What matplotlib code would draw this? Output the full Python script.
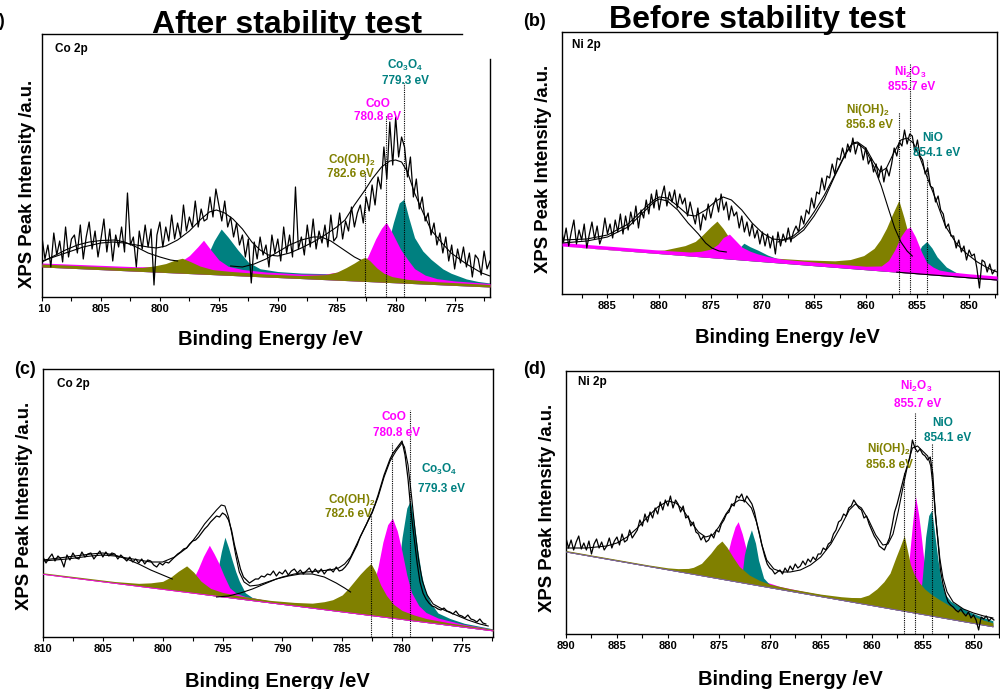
# -*- coding: utf-8 -*-
import numpy as np
import matplotlib
matplotlib.use('Agg')
import matplotlib.pyplot as plt
from matplotlib.patches import Rectangle

# =============================================================================
# Data (intensities in a.u., energies in eV)
# =============================================================================
# --- (a) Co 2p after stability test ---
a_raw = [
    60, 38, 52, 30, 64, 42, 56, 35, 70, 40, 58, 62, 44, 72, 38, 60,
    75, 48, 66, 40, 58, 78, 45, 68, 36, 62, 50, 70, 45, 104, 52, 60,
    30, 66, 48, 72, 50, 68, 12, 62, 75, 50, 70, 56, 82, 58, 74, 60,
    92, 66, 80, 70, 96, 70, 88, 76, 78, 100, 80, 108, 92, 76, 96, 70,
    80, 60, 74, 52, 62, 40, 58, 14, 55, 38, 60, 42, 52, 30, 62, 44,
    58, 36, 70, 44, 62, 40, 110, 48, 60, 42, 72, 50, 78, 48, 66, 54,
    72, 50, 82, 56, 60, 84, 58, 76, 66, 90, 70, 84, 92, 74, 100, 86,
    112, 92, 120, 108, 150, 118, 175, 132, 180, 140, 160, 150, 120, 140, 100, 118,
    88, 100, 76, 84, 62, 74, 52, 64, 44, 60, 36, 52, 28, 48, 34, 50,
    30, 44, 20, 42, 38, 22, 46, 28, 36]
a_base = [(810, 30), (772, 10)]
a_teal = [(810, 3), (798, 3.5), (796.8, 8), (796, 18), (795.4, 34), (794.8, 46), (794.2, 38),
          (793.4, 26), (792.5, 14), (791.5, 8), (790, 6), (788, 5.5), (786, 6), (784, 5.5),
          (782.5, 7), (781.5, 14), (780.8, 32), (780.2, 60), (779.7, 80), (779.3, 84),
          (778.9, 66), (778.4, 46), (777.7, 33), (777, 25), (776, 16), (775.3, 12), (774, 7),
          (773, 5), (772, 4)]
a_magenta = [(810, 4), (802, 4.5), (800, 5.5), (799, 8), (798.2, 12), (797.5, 18), (796.8, 27),
             (796.3, 34), (795.7, 25), (795, 15), (794.2, 9), (793, 6.5), (791, 5), (788, 4.5),
             (786, 5.5), (785, 8), (784, 11), (783.2, 17), (782.4, 24), (781.7, 43), (781.2, 54),
             (780.8, 60), (780.3, 50), (779.6, 34), (779, 24), (778.4, 15), (777.5, 9),
             (776.5, 6), (775, 4.5), (772, 3.5)]
a_olive = [(810, 3), (803, 3), (801.5, 4), (800.5, 6), (799.5, 9), (798.7, 13), (798.1, 15),
           (797.4, 12), (796.6, 8), (795.5, 5), (794, 4), (791, 3), (788, 3), (786, 5), (785, 8),
           (784.2, 13), (783.5, 18), (783, 22), (782.6, 24), (782.2, 21), (781.6, 14), (781, 9),
           (780.3, 6), (779, 4), (777, 3), (772, 2.5)]
a_env = [(810, 36), (808, 44), (806.5, 50), (805, 54), (804, 55), (803, 54), (802, 52), (801, 50),
         (800.3, 49), (799.5, 51), (798.5, 57), (797.5, 66), (796.5, 78), (795.8, 85),
         (795.2, 87), (794.5, 84), (793.8, 78), (793, 68), (792.2, 55), (791.5, 47), (790.8, 42),
         (790, 41), (789, 44), (788, 49), (787, 55), (786, 62), (785, 70), (784.3, 77),
         (783.5, 92), (782.6, 107), (782, 118), (781.2, 130), (780.5, 136), (780, 137),
         (779.5, 135), (779, 125), (778.4, 104), (777.7, 85), (777, 67), (776, 53), (775.3, 44),
         (774, 33), (772.7, 24), (772, 21)]
a_sat1 = [(810, 35), (809, 41), (808, 47), (807, 52), (806, 55), (805, 56.5), (803.8, 57),
          (803, 55), (802, 50), (801, 44), (800, 40), (799.1, 37), (798.5, 36)]
a_sat2 = [(794, 31), (793, 30), (792, 33), (791, 38), (790, 45), (789, 52), (788, 57), (787, 60),
          (786.3, 60), (785.5, 56), (784.5, 48), (783.5, 40), (783, 37)]

# --- (b) Ni 2p before stability test ---
b_raw = [
    70, 52, 66, 48, 62, 74, 50, 64, 54, 70, 46, 60, 72, 55, 68, 50,
    58, 76, 60, 70, 56, 74, 62, 80, 60, 78, 64, 82, 70, 88, 66, 84,
    76, 94, 80, 100, 86, 104, 84, 98, 108, 88, 102, 92, 104, 86, 100, 90,
    96, 78, 92, 80, 70, 86, 64, 80, 74, 90, 76, 88, 96, 82, 100, 84,
    92, 74, 88, 78, 82, 66, 78, 62, 72, 58, 70, 56, 64, 50, 62, 48,
    60, 46, 58, 40, 62, 48, 60, 52, 66, 52, 62, 68, 62, 78, 70, 84,
    80, 96, 86, 102, 100, 116, 104, 118, 116, 130, 120, 136, 134, 146, 136, 150,
    142, 156, 140, 150, 148, 134, 146, 130, 136, 122, 130, 116, 128, 112, 126, 118,
    130, 146, 138, 152, 148, 164, 150, 160, 158, 142, 154, 138, 134, 120, 126, 108,
    106, 92, 98, 84, 80, 66, 70, 58, 58, 46, 54, 42, 48, 34, 44, 38,
    40, 26, 6, 34, 32, 22, 30, 20, 24]
b_base = [(889.4, 48), (847.3, 14)]
b_olive = [(889.4, 0), (884, 0.5), (881, 2), (879.5, 4), (878.5, 7), (877.5, 10), (876.5, 15),
           (875.8, 22), (875, 31), (874.4, 37), (873.8, 30), (873, 18), (872, 9), (871, 5.5),
           (869, 4.5), (866, 5), (863, 6.5), (861.5, 9), (860.2, 14), (859.2, 22), (858.6, 31),
           (858, 43), (857.4, 58), (856.8, 72), (856.3, 55), (855.7, 32), (855, 16), (854, 7),
           (852, 3), (849, 1.5), (847.3, 1)]
b_teal = [(889.4, 0), (874, 0.5), (873, 4), (872.4, 10), (871.8, 17), (871.2, 14), (870.4, 11),
          (869.5, 7), (868.5, 4), (867, 2), (860, 1), (856, 6), (855.2, 15), (854.6, 28),
          (854.1, 33), (853.6, 27), (853.1, 18.5), (852.2, 9), (851.2, 4), (850.5, 2.5),
          (849, 1.5), (847.3, 1)]
b_magenta = [(889.4, 3.5), (880, 3.5), (877, 4), (876, 5.5), (875, 8.5), (874.3, 14),
             (873.8, 21), (873.2, 25), (872.6, 19), (872, 13), (871.2, 9.5), (870.5, 7.5),
             (869.5, 5.5), (868, 4), (864, 3.5), (860, 3.5), (858.5, 5), (857.8, 11),
             (857.2, 22), (856.6, 36), (856.1, 44), (855.7, 46), (855.2, 37), (854.6, 22),
             (854.1, 12), (853.5, 8), (852.9, 5.5), (852, 4.5), (850, 4), (847.3, 4)]
b_env = [(889.4, 54), (887, 55), (885, 59), (883, 70), (881.5, 85), (880.5, 94), (880, 97),
         (879.2, 96), (878.2, 88), (877.2, 79), (876.5, 78), (875.5, 84), (874.5, 93),
         (873.8, 97), (873, 94), (872, 84), (871, 71), (870, 61), (869, 55), (868, 54),
         (867, 56), (866, 64), (865, 78), (864, 95), (863, 118), (862, 139), (861.3, 151),
         (860.8, 152), (860, 146), (859.3, 133), (858.6, 122), (858, 126), (857.3, 141),
         (856.6, 154), (856, 156), (855.4, 151), (854.7, 135), (854, 115), (853.2, 94),
         (852.3, 68), (851.2, 50), (850.2, 40), (849.2, 32), (848.2, 26), (847.3, 22)]
b_sat1 = [(889.4, 51), (887, 53), (885, 57), (883, 67), (881.5, 82), (880.5, 92), (880, 95),
          (879.2, 93), (878.2, 84), (877.2, 71), (876.2, 60), (875.5, 51), (874.9, 46),
          (874.2, 43), (873.5, 42)]
b_sat2 = [(868.5, 52), (867, 58), (866, 67), (865, 82), (864, 99), (863, 119), (862, 140),
          (861.3, 150), (860.8, 151), (860, 144), (859.2, 127), (858.5, 108), (857.8, 85),
          (857.2, 66), (856.6, 52), (856, 43), (855.5, 38)]

# --- (c) Co 2p ---
c_raw = [
    80, 74, 79, 83, 76, 81, 78, 70, 82, 77, 84, 79, 78, 85, 80, 83,
    84, 78, 82, 86, 80, 85, 81, 84, 83, 78, 82, 79, 76, 80, 75, 78,
    74, 78, 73, 77, 76, 72, 70, 74, 72, 75, 74, 77, 80, 83, 85, 88,
    89, 93, 96, 97, 100, 104, 108, 111, 115, 118, 121, 120, 124, 122, 117, 107,
    92, 80, 68, 60, 57, 54, 56, 58, 58, 61, 60, 63, 62, 66, 61, 65,
    63, 67, 62, 66, 68, 64, 67, 63, 66, 69, 64, 68, 64, 68, 63, 67,
    68, 65, 70, 66, 67, 70, 74, 80, 86, 92, 100, 106, 112, 119, 125, 133,
    142, 152, 162, 170, 178, 184, 188, 192, 196, 182, 158, 125, 100, 75, 55, 44,
    38, 34, 31, 30, 28, 27, 29, 26, 25, 23, 26, 22, 21, 19, 22, 18,
    17, 15, 18, 14, 13]
c_base = [(810, 62.7), (772.4, 6.1)]
c_teal = [(810, 0), (797, 0), (796, 2), (795.5, 20), (795.1, 45), (794.8, 60), (794.5, 50),
          (794.2, 38), (793.9, 27), (793.6, 18), (793.1, 7), (792.5, 3), (791, 1.5), (785, 1),
          (782, 2), (781, 8), (780.4, 40), (780, 82), (779.6, 112), (779.3, 120), (779, 100),
          (778.7, 72), (778.4, 49), (778.1, 33), (777.6, 20), (777, 11), (776, 7), (774.8, 4),
          (772.4, 2)]
c_magenta = [(810, 0.5), (800, 0.5), (798.5, 2), (797.8, 8), (797.3, 18), (797, 26),
             (796.6, 38), (796.1, 50), (795.7, 42), (795.3, 33), (794.9, 22), (794.4, 10),
             (793.8, 5), (793, 3), (790, 1.5), (785, 2), (784, 4), (783, 12), (782.3, 35),
             (782, 50), (781.6, 75), (781.2, 93), (780.8, 100), (780.4, 88), (780, 68),
             (779.6, 45), (779.2, 28), (778.6, 16), (778, 10), (777, 6), (775, 3), (772.4, 1.5)]
c_olive = [(810, 1.5), (804, 1.8), (802, 3), (801, 5), (800, 8), (799.3, 13.5), (798.7, 20),
           (798, 26.5), (797.4, 21), (796.8, 13), (796, 7), (795, 4.5), (793.5, 3), (791, 2.5),
           (789, 3.5), (787.5, 5), (786.5, 8), (785.8, 11), (785, 17), (784.5, 24), (784, 32),
           (783.5, 40), (783, 47), (782.6, 52), (782.2, 44), (781.8, 32), (781.3, 22),
           (780.7, 14), (780, 9), (779, 6), (778, 4), (776, 2.5), (772.4, 1.5)]
c_env = [(810, 76), (808, 78), (806, 81), (805, 82), (804, 81), (803, 79), (802, 77), (801, 75),
         (800, 75), (799, 80), (798, 89), (797.5, 96), (797, 104), (796.5, 113), (796, 120),
         (795.5, 127), (795.1, 132), (794.8, 131), (794.5, 120), (794.2, 102), (793.9, 82),
         (793.6, 65), (793.2, 55), (792.7, 51), (792, 52), (791, 56), (790, 60), (789, 63),
         (788, 65), (787, 66), (786, 67), (785.3, 69), (784.8, 73), (784.3, 80), (783.7, 95),
         (783.1, 110), (782.5, 124), (782, 140), (781.5, 160), (781, 176), (780.5, 186),
         (780, 194), (779.8, 190), (779.5, 172), (779.2, 140), (778.9, 105), (778.6, 76),
         (778.3, 56), (777.9, 42), (777.4, 33), (776.5, 27), (775.5, 22), (774.5, 17),
         (773.5, 13), (772.8, 11)]
c_sat1 = [(810, 77), (808, 80), (806, 83), (805, 84), (804, 82), (803, 78), (802, 73), (801, 67),
          (800, 62), (799.2, 58)]
c_sat2 = [(795.5, 40), (794.5, 41), (793.5, 44), (792.5, 48), (791.5, 53), (790.5, 58),
          (789.5, 61), (788.5, 63), (787.5, 63), (786.5, 60), (785.5, 54), (784.8, 49),
          (784.3, 45)]

# --- (d) Ni 2p ---
d_raw = [
    96, 86, 94, 84, 92, 98, 85, 91, 84, 93, 80, 90, 95, 86, 92, 84,
    88, 96, 86, 93, 97, 89, 100, 92, 94, 104, 96, 100, 104, 114, 108, 120,
    112, 122, 116, 126, 120, 132, 124, 134, 128, 138, 126, 134, 130, 122, 128, 116,
    118, 108, 112, 102, 100, 94, 98, 92, 94, 100, 96, 104, 102, 110, 114, 120,
    122, 130, 128, 138, 136, 140, 132, 138, 134, 130, 122, 110, 100, 88, 78, 70,
    66, 64, 60, 62, 64, 60, 66, 62, 68, 64, 70, 66, 68, 73, 69, 75,
    72, 77, 74, 80, 80, 86, 84, 90, 92, 100, 104, 112, 114, 120, 118, 126,
    128, 134, 130, 126, 124, 116, 118, 110, 104, 98, 94, 88, 86, 84, 90, 96,
    108, 122, 130, 140, 150, 160, 168, 176, 194, 186, 182, 185, 180, 178, 174, 177,
    160, 120, 94, 64, 50, 40, 32, 29, 27, 24, 22, 25, 21, 18, 22, 16,
    19, 14, 4, 17, 15, 18, 13, 16, 14]
d_base = [(890, 82), (848.1, 7.2)]
d_magenta = [(890, 1), (878, 1), (876, 2), (875, 5), (874.5, 12), (874.1, 28), (873.8, 41),
             (873.4, 55), (873.1, 60.5), (872.7, 49), (872.3, 34), (871.9, 22), (871.5, 15),
             (871, 9), (870.3, 5), (869, 3), (866, 2), (860, 2), (858, 3), (857, 6),
             (856.6, 20), (856.3, 55), (856, 88), (855.7, 117), (855.4, 100), (855.2, 84),
             (854.9, 57), (854.6, 40), (854.2, 24), (853.8, 13), (853.2, 9), (852.5, 7),
             (851, 4), (848.1, 2)]
d_teal = [(890, 1), (874, 1), (873, 2), (872.7, 10), (872.5, 28), (872.2, 42), (871.8, 54.7),
          (871.4, 42), (871.1, 25.5), (870.6, 8.6), (870, 3), (868, 2), (858, 2), (856, 3),
          (855.3, 8), (855, 40), (854.7, 78), (854.4, 100), (854.1, 106), (853.8, 82),
          (853.5, 58), (853.2, 38), (852.8, 24), (852.2, 18), (851.5, 15), (850.5, 11),
          (849.2, 8), (848.1, 6)]
d_olive = [(890, 1.5), (882, 1.5), (880, 2), (879, 3), (878, 5), (877.5, 7), (876.7, 12.4),
           (875.8, 24), (875.2, 33), (874.7, 38.3), (874.2, 33), (873.6, 24), (873, 16),
           (872, 9), (871, 5.5), (870, 3.5), (868, 2.5), (865, 2.5), (863, 3.5), (862, 4.5),
           (861.1, 6), (860.3, 10), (859.5, 17.5), (858.8, 26), (858.2, 35.6), (857.6, 53),
           (857.2, 64), (856.8, 75.6), (856.5, 62), (856.2, 48), (855.8, 38), (855.3, 31),
           (854.8, 26), (854.2, 22), (853.5, 18.5), (852.8, 15.5), (852, 12), (851, 9),
           (850, 7), (849, 5), (848.1, 4)]
d_env = [(890, 86), (888, 86), (886, 88), (885, 91), (884, 97), (883, 106), (882, 117),
         (881, 127), (880, 133), (879.2, 131), (878.5, 124), (877.8, 113), (877, 102),
         (876.3, 97), (875.6, 99), (875, 107), (874.3, 120), (873.6, 130), (873, 134),
         (872.4, 133), (871.8, 126), (871.3, 112), (870.8, 90), (870.3, 74), (869.6, 65),
         (868.8, 62), (868, 62), (867, 64), (866, 69), (865, 77), (864, 90), (863, 108),
         (862.2, 124), (861.6, 130), (861, 126), (860.3, 114), (859.6, 99), (858.9, 89),
         (858.4, 90), (857.9, 100), (857.4, 122), (856.9, 148), (856.4, 172), (856, 186),
         (855.5, 188), (855, 183), (854.5, 178), (854.2, 168), (853.9, 140), (853.6, 105),
         (853.3, 75), (853, 56), (852.6, 42), (852, 32), (851, 25), (850, 21), (849, 18),
         (848.1, 16)]

# peak positions and names
co_peaks = [782.6, 780.8, 779.3]
co_names = ['Co(OH)$_2$', 'CoO', 'Co$_3$O$_4$']
ni_peaks = [856.8, 855.7, 854.1]
ni_names = ['Ni(OH)$_2$', 'Ni$_2$O$_3$', 'NiO']

# =============================================================================
# Plot
# =============================================================================
plt.rcParams['font.family'] = ['Liberation Sans', 'DejaVu Sans']
plt.rcParams['font.weight'] = 'bold'
plt.rcParams['mathtext.fontset'] = 'custom'
plt.rcParams['mathtext.rm'] = 'Liberation Sans:bold'
plt.rcParams['mathtext.it'] = 'Liberation Sans:bold'
plt.rcParams['mathtext.bf'] = 'Liberation Sans:bold'

OLIVE, MAGENTA, TEAL = '#808000', '#ff00ff', '#008080'
peak_colors = [OLIVE, MAGENTA, TEAL]

fig = plt.figure(figsize=(10, 6.89), dpi=100)


def fx(x):
    return x / 1000


def fy(y):
    return 1 - y / 689


def base_at(base, e):
    (e0, h0), (e1, h1) = base
    return h0 + (np.asarray(e, dtype=float) - e0) * (h1 - h0) / (e1 - e0)


def fill_comp(ax, base, pts, color, z):
    pts = np.array(pts, dtype=float)
    b = base_at(base, pts[:, 0])
    ax.fill_between(pts[:, 0], b, b + pts[:, 1], color=color, lw=0, zorder=z)


def curve(ax, pts):
    pts = np.array(pts, dtype=float)
    ax.plot(pts[:, 0], pts[:, 1], color='k', lw=0.8, zorder=6)


def panel(box, xlim, ymax, raw, base, comps, curves, peaks, tops, major, minor):
    l, t, r, b = box
    ax = fig.add_axes([fx(l), fy(b), fx(r - l), (b - t) / 689])
    for pts, color, z in comps:
        fill_comp(ax, base, pts, color, z)
    e = np.linspace(xlim[0] if len(raw) == 0 else raw[0], raw[1], len(raw[2]))
    ax.plot(e, raw[2], color='k', lw=0.9, zorder=5)
    for c in curves:
        curve(ax, c)
    for pe, top in zip(peaks, tops):
        ax.plot([pe, pe], [0, top], color='k', lw=0.8, ls=(0, (1, 1)), zorder=7)
    ax.set_xlim(*xlim)
    ax.set_ylim(0, ymax)
    ax.set_xticks(major)
    ax.set_xticks(minor, minor=True)
    ax.set_yticks([])
    ax.tick_params(axis='x', which='both', direction='out', length=3, width=0.8,
                   labelsize=8, pad=2)
    for s in ax.spines.values():
        s.set_linewidth(1.0)
    return ax


def labels(names, peaks, spots):
    for name, pe, c, (nx, ny, vx, vy) in zip(names, peaks, peak_colors, spots):
        fig.text(fx(nx), fy(ny), name, color=c, fontsize=8.5, ha='center', va='center')
        fig.text(fx(vx), fy(vy), f'{pe:.1f} eV', color=c, fontsize=8.5,
                 ha='center', va='center')


# (a)
ax = panel((42, 34, 490, 297), (810, 772), 263, (810, 772, a_raw), a_base,
           [(a_teal, TEAL, 2), (a_magenta, MAGENTA, 3), (a_olive, OLIVE, 4)],
           [a_env, a_sat1, a_sat2], co_peaks, [125, 182, 214],
           np.arange(810, 771, -5), np.arange(807.5, 771, -5))
ax.spines['top'].set_bounds(810, 774.4)
ax.spines['right'].set_bounds(0, 238)
labels(co_names, co_peaks, [(352, 160, 350, 174), (378, 104, 378, 117), (405, 65, 406, 81)])

# (b)
ax = panel((562, 32, 997, 294), (889.4, 847.3), 262, (889.5, 847.5, b_raw), b_base,
           [(b_olive, OLIVE, 2), (b_teal, TEAL, 3), (b_magenta, MAGENTA, 4)],
           [b_env, b_sat1, b_sat2], ni_peaks, [182, 231, 134],
           np.arange(885, 847, -5), np.arange(887.5, 847, -5))
eb = np.array([857, 847.3])
ax.plot(eb, base_at(b_base, eb), color='k', lw=0.8, zorder=5)
labels(ni_names, ni_peaks, [(868, 110, 870, 125), (910, 72, 912, 87), (933, 138, 937, 153)])

# (c)
ax = panel((43, 369, 493, 637), (810, 772.4), 268, (810, 773, c_raw), c_base,
           [(c_teal, TEAL, 2), (c_magenta, MAGENTA, 3), (c_olive, OLIVE, 4)],
           [c_env, c_sat1, c_sat2], co_peaks, [122, 194, 227],
           np.arange(810, 771, -5), np.arange(807.5, 771, -5))
ec = np.array([810, 772.4])
ax.plot(ec, base_at(c_base, ec), color=MAGENTA, lw=0.6, zorder=4.5)
labels(co_names, co_peaks, [(352, 500, 348, 514), (394, 417, 397, 433), (439, 469, 442, 489)])

# (d)
ax = panel((566, 371, 999, 634), (890, 848.1), 263, (890, 848, d_raw), d_base,
           [(d_magenta, MAGENTA, 2), (d_teal, TEAL, 3), (d_olive, OLIVE, 4)],
           [d_env], ni_peaks, [162, 221, 191],
           np.arange(890, 847, -5), np.arange(887.5, 847, -5))
ed = np.array([890, 848.1])
ax.plot(ed, base_at(d_base, ed), color='#8060c0', lw=0.6, zorder=4.5)
labels(ni_names, ni_peaks, [(889, 449, 889, 465), (916, 386, 918, 404), (943, 423, 948, 438)])

# axis titles, panel letters, element tags
for x, y in [(270, 345), (787, 343), (277, 687), (790, 685)]:
    fig.text(fx(x), fy(y), 'Binding Energy /eV', fontsize=14.5, ha='center', va='baseline')
for x, y in [(27.5, 184), (544, 169), (25, 506), (547, 508)]:
    fig.text(fx(x), fy(y), 'XPS Peak Intensity /a.u.', fontsize=13.3, rotation=90,
             ha='center', va='center')
for x, y, s in [(55, 49, 'Co 2p'), (572, 45, 'Ni 2p'), (57, 384, 'Co 2p'), (578, 382, 'Ni 2p')]:
    fig.text(fx(x), fy(y), s, fontsize=8.5, ha='left', va='center')
fig.text(fx(5), fy(22), '(a)', fontsize=13, ha='right', va='center')
fig.text(fx(535), fy(22), '(b)', fontsize=13, ha='center', va='center')
fig.text(fx(25), fy(369), '(c)', fontsize=13, ha='center', va='center')
fig.text(fx(535), fy(369), '(d)', fontsize=13, ha='center', va='center')

fig.text(fx(287), fy(33), 'After stability test', fontsize=23, ha='center', va='baseline')
fig.text(fx(757), fy(28), 'Before stability test', fontsize=23, ha='center', va='baseline')

# trim the left edge of the first tick label
fig.patches.append(Rectangle((0, fy(320)), fx(39), 20 / 689, transform=fig.transFigure,
                             facecolor='white', edgecolor='none', zorder=10))

fig.savefig('out.png', dpi=100)
